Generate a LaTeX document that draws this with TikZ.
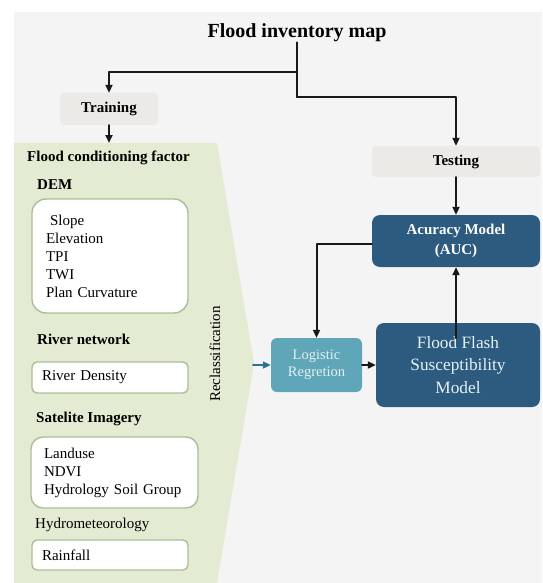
\documentclass[tikz,border=0pt]{standalone}
\usepackage{fontspec}
\setmainfont{Liberation Serif}
\usetikzlibrary{arrows.meta}

\definecolor{pagegray}{HTML}{F4F4F4}
\definecolor{panelgreen}{HTML}{E3EBD3}
\definecolor{stepgray}{HTML}{EBEAE6}
\definecolor{boxline}{HTML}{A9BF96}
\definecolor{regblue}{HTML}{5EA6B8}
\definecolor{modelblue}{HTML}{2D5A7F}
\definecolor{inblue}{HTML}{2F6F96}
\definecolor{lighttext}{HTML}{E4F1F4}

\begin{document}
\begin{tikzpicture}[
		x=1pt, y=-1pt,
		stepbox/.style={fill=stepgray, rounded corners=4pt, inner sep=0pt,
			font=\fontsize{15}{18}\selectfont\bfseries},
		factorbox/.style={draw=boxline, fill=white, line width=1.4pt, inner ysep=0pt,
			align=left, font=\fontsize{15}{18}\selectfont},
		grouplabel/.style={anchor=west, inner sep=0pt, font=\fontsize{15}{18}\selectfont\bfseries},
		modelbox/.style={fill=modelblue, rounded corners=8pt, inner sep=0pt, align=center},
		link/.style={line width=2pt, black!90},
		flow/.style={link, -{Triangle[length=8pt,width=7pt]}},
		line cap=round,
		line join=round
		]
		
		% ---- background ----
		\useasboundingbox (0,0) rectangle (542,583);
		\fill[white] (0,0) rectangle (542,583);
		\fill[pagegray] (14,12) rectangle (542,583);
		\fill[panelgreen] (14,143) -- (217,143) -- (254,363) -- (217,583) -- (14,583) -- cycle;
		
		% ---- top ----
		\node[inner sep=0pt, font=\fontsize{20}{24}\selectfont\bfseries] (inv) at (297,33) {Flood inventory map};
		\coordinate (split) at (297,72);
		\coordinate (split2) at (297,97);
		\node[stepbox, minimum width=98pt, minimum height=32pt] (train) at (109,109) {Training};
		\node[stepbox, minimum width=168pt, minimum height=31pt] (test) at (456,161.5) {Testing};
		\coordinate (paneltop) at (109,143);
		
		% ---- conditioning factors ----
		\node[grouplabel] (cond) at (27,158) {Flood conditioning factor};
		\node[grouplabel] (dem) at (37,185) {DEM};
		\node[factorbox, rounded corners=14pt, inner xsep=14pt, text width=128pt, minimum height=114pt] (dembox) at (110,256)
			{\hspace{4pt}Slope\\Elevation\\TPI\\TWI\\Plan Curvature};
		\node[grouplabel] (river) at (37,339) {River network};
		\node[factorbox, rounded corners=5pt, inner xsep=10pt, text width=136pt, minimum height=31pt] (riverbox) at (110,377.5)
			{River Density};
		\node[grouplabel] (sat) at (36,419) {Satelite Imagery};
		\node[factorbox, rounded corners=12pt, inner xsep=13pt, text width=141pt, minimum height=71pt] (satbox) at (114.5,472.5)
			{Landuse\\NDVI\\Hydrology Soil Group};
		\node[grouplabel, font=\fontsize{15}{18}\selectfont] (hydro) at (35,525) {Hydrometeorology};
		\node[factorbox, rounded corners=5pt, inner xsep=10pt, text width=136pt, minimum height=30pt] (rainbox) at (110,555)
			{Rainfall};
		\node[rotate=90, inner sep=0pt, font=\fontsize{15}{18}\selectfont] (reclass) at (215,354) {Reclassification};
		\coordinate (panelout) at (253,365);
		
		% ---- models ----
		\node[fill=regblue, rounded corners=6pt, inner sep=0pt, minimum width=91pt, minimum height=54pt,
			align=center, text=lighttext, font=\fontsize{14.5}{17}\selectfont] (logit) at (316.5,365) {Logistic\\Regretion};
		\node[modelbox, minimum width=164pt, minimum height=84pt, text=lighttext,
			font=\fontsize{17.3}{22.5}\selectfont] (ffsm) at (458,365) {Flood Flash\\Susceptibility\\Model};
		\node[modelbox, minimum width=168pt, minimum height=52pt, text=white,
			font=\fontsize{15}{20}\selectfont\bfseries] (acc) at (456,241) {Acuracy Model\\(AUC)};
		\coordinate (ffsmin) at (456,338);
		
		% ---- connectors ----
		\draw[link] (inv.south) -- (split2);
		\draw[flow] (split) -| (train.north);
		\draw[flow] (split2) -| (test.north);
		\draw[flow] (train.south) -- (paneltop);
		\draw[flow] (test.south) -- (acc.north);
		\draw[flow] (ffsmin) -- (acc.south);
		\draw[flow] (acc.west |- 0,244) -| (logit.north);
		\draw[flow, inblue] (panelout) -- (logit.west);
		\draw[flow] (logit.east) -- (ffsm.west);
	\end{tikzpicture}
\end{document}
